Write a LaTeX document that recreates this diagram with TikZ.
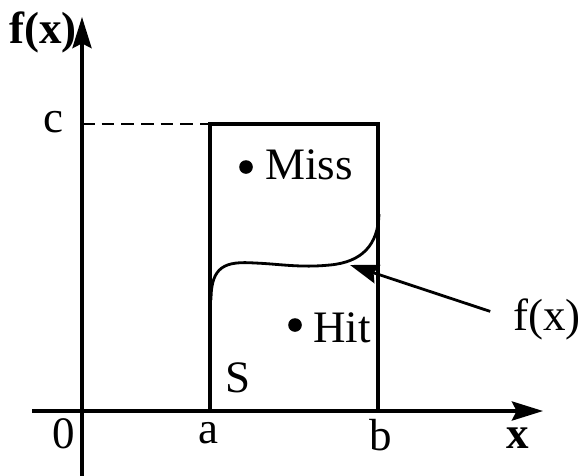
\documentclass[tikz,border=0pt]{standalone}
\usepackage{fontspec}
\setmainfont{Liberation Serif}
\usetikzlibrary{arrows.meta, positioning}

\begin{document}
\begin{tikzpicture}[
    x=0.025cm, y=-0.025cm,
    lbl/.style={font=\fontsize{32}{37}\selectfont, inner sep=0pt},
    boldlbl/.style={lbl, font=\fontsize{32}{37}\selectfont\bfseries},
    dot/.style={circle, fill=black, inner sep=0pt, minimum size=0.34cm},
    axis/.style={line width=2.2pt, -{Stealth[length=0.78cm, width=0.48cm, inset=0.12cm]}},
    arrow/.style={line width=2pt, -{Stealth[length=0.72cm, width=0.48cm, inset=0.1cm]}}
]
    \useasboundingbox (0,0) rectangle (578,475);

    % axes
    \coordinate (xstart) at (32,411);
    \coordinate (xend) at (543,411);
    \coordinate (ystart) at (82,476);
    \coordinate (yend) at (82,17);
    \draw [axis] (xstart) -- (xend);
    \draw [axis] (ystart) -- (yend);

    % region S
    \coordinate (sa) at (210,411);
    \coordinate (sc) at (378,124);
    \draw [line width=2.2pt] (sa) rectangle (sc);
    \coordinate (cy) at (82,124);
    \coordinate (cend) at (272,124);
    \draw [line width=2pt, dash pattern=on 9pt off 5pt] (cy) -- (cend);

    % curve f(x)
    \draw [line width=2pt] (211,300) .. controls (211,266) and (225,261) .. (255,263)
        .. controls (280,264) and (300,268) .. (330,265)
        .. controls (362,262) and (378,245) .. (379,214);
    \coordinate (fxpt) at (350,265);

    % labels
    \node [boldlbl, anchor=base] (ylabel) at (43,43) {f(x)};
    \node [boldlbl, anchor=base] (xlabel) at (518,448) {x};
    \node [lbl, anchor=base] (clabel) at (53,132) {c};
    \node [lbl, anchor=base] (zero) at (64,448) {0};
    \node [lbl, anchor=base] (alabel) at (208,443) {a};
    \node [lbl, anchor=base] (blabel) at (381,450) {b};
    \node [lbl, anchor=base] (slabel) at (238,392) {S};

    \node [dot] (missdot) at (246,167) {};
    \node [lbl, anchor=base west] (miss) at (265,179) {Miss};
    \node [dot] (hitdot) at (295,325) {};
    \node [lbl, anchor=base west] (hit) at (313,342) {Hit};

    \node [lbl, anchor=base west] (fxlabel) at (513,330) {f(x)};
    \draw [arrow, shorten <=0.6cm] (fxlabel.west) -- (fxpt);
\end{tikzpicture}
\end{document}
